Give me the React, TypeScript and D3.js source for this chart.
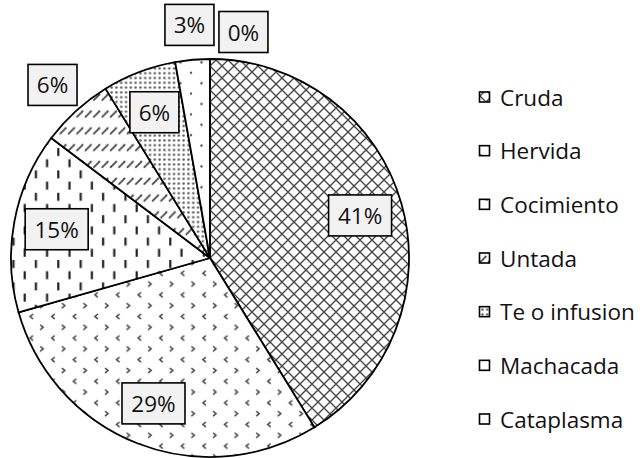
import React from "react";
import * as d3 from "d3";

const categories = ["Cruda", "Hervida", "Cocimiento", "Untada", "Te o infusion", "Machacada", "Cataplasma"];
const values = [41.2, 29.4, 14.7, 5.9, 6.0, 2.8, 0];
const labels = ["41%", "29%", "15%", "6%", "6%", "3%", "0%"];
const labelOutside = [false, false, false, true, false, true, true];

const W = 643;
const H = 458;
const cx = 210;
const cy = 258;
const R = 199;
const FONT = "'Open Sans', 'DejaVu Sans', sans-serif";

function Patterns() {
  return (
    <defs>
      <pattern id="p0" patternUnits="userSpaceOnUse" width={12} height={12}>
        <rect width={12} height={12} fill="#fff" />
        <path d="M0,0 L12,12 M12,0 L0,12 M-1,11 L1,13 M11,-1 L13,1" stroke="#444" strokeWidth={1.35} />
      </pattern>
      <pattern id="p1" patternUnits="userSpaceOnUse" width={21.6} height={21.6}>
        <rect width={21.6} height={21.6} fill="#fff" />
        <path d="M3,2 L6,4.5 L3,7" stroke="#444" strokeWidth={1.5} fill="none" />
        <path d="M17.5,12.8 L14.5,15.3 L17.5,17.8" stroke="#444" strokeWidth={1.5} fill="none" />
      </pattern>
      <pattern id="p2" patternUnits="userSpaceOnUse" width={22.4} height={22.4}>
        <rect width={22.4} height={22.4} fill="#fff" />
        <rect x={4} y={2} width={2.2} height={8} fill="#222" />
        <rect x={15.2} y={13.2} width={2.2} height={8} fill="#222" />
      </pattern>
      <pattern id="p3" patternUnits="userSpaceOnUse" width={8.4} height={16.8}>
        <rect width={8.4} height={16.8} fill="#fff" />
        <path d="M1.5,10 L7,4.5" stroke="#444" strokeWidth={1.9} strokeLinecap="round" strokeDasharray="2 1.2" />
      </pattern>
      <pattern id="p4" patternUnits="userSpaceOnUse" width={4.8} height={4.8}>
        <rect width={4.8} height={4.8} fill="#fff" />
        <circle cx={2.4} cy={2.4} r={1.2} fill="#555" />
      </pattern>
      <pattern id="p5" patternUnits="userSpaceOnUse" width={21} height={20.8}>
        <rect width={21} height={20.8} fill="#fff" />
        <circle cx={2} cy={2} r={1.2} fill="#555" />
        <circle cx={12.5} cy={12.4} r={1.2} fill="#555" />
      </pattern>
      <pattern id="p6" patternUnits="userSpaceOnUse" width={10} height={10}>
        <rect width={10} height={10} fill="#fff" />
      </pattern>
    </defs>
  );
}

export default function App() {
  const data = categories.map((c, i) => ({ c, v: values[i], i }));
  const pie = d3.pie<any>().sort(null).value((d: any) => d.v).startAngle(0).endAngle(2 * Math.PI);
  const arcs = pie(data);
  const arc = d3.arc<any>().innerRadius(0).outerRadius(R);

  const boxH = 41;
  const labelPos = arcs.map((a, i) => {
    const mid = (a.startAngle + a.endAngle) / 2;
    const r = labelOutside[i] ? 234 : 156;
    const x = Math.sin(mid) * r;
    const y = -Math.cos(mid) * r;
    const w = 21 + 14 * labels[i].length;
    return { x, y, w };
  });
  for (let i = 1; i < labelPos.length; i++) {
    const p = labelPos[i - 1];
    const q = labelPos[i];
    if (labelOutside[i] && labelOutside[i - 1]) {
      const minDx = (p.w + q.w) / 2 + 5;
      if (Math.abs(q.x - p.x) < minDx && Math.abs(q.y - p.y) < boxH) {
        q.x = p.x + minDx;
        q.y = q.y + 8;
      }
    }
  }

  const legendY = d3.scalePoint<string>().domain(categories).range([97, 419]);

  return (
    <svg width={W} height={H} style={{ position: "absolute", left: 0, top: 0, background: "#fff" }} fontFamily={FONT}>
      <Patterns />
      <rect width={W} height={H} fill="#fff" />
      <g transform={`translate(${cx},${cy})`}>
        {arcs.map((a, i) => (
          <path key={i} d={arc(a) || ""} fill={`url(#p${i})`} stroke="#000" strokeWidth={1.8} strokeLinejoin="round" />
        ))}
        {arcs.map((a, i) => {
          const p = labelPos[i];
          return (
            <g key={"l" + i} transform={`translate(${p.x},${p.y})`}>
              <rect x={-p.w / 2} y={-boxH / 2} width={p.w} height={boxH} fill="#f2f2f2" stroke="#000" strokeWidth={1.6} />
              <text x={0} y={0} textAnchor="middle" dominantBaseline="central" fontSize={22.5} fill="#111">
                {labels[i]}
              </text>
            </g>
          );
        })}
      </g>
      <g>
        {categories.map((c, i) => {
          const y = legendY(c) as number;
          return (
            <g key={c}>
              <rect x={479.5} y={y - 5} width={10} height={10} fill={`url(#p${i})`} stroke="#000" strokeWidth={1.6} />
              <text x={500} y={y} dominantBaseline="central" fontSize={22.5} fill="#111">
                {c}
              </text>
            </g>
          );
        })}
      </g>
    </svg>
  );
}
